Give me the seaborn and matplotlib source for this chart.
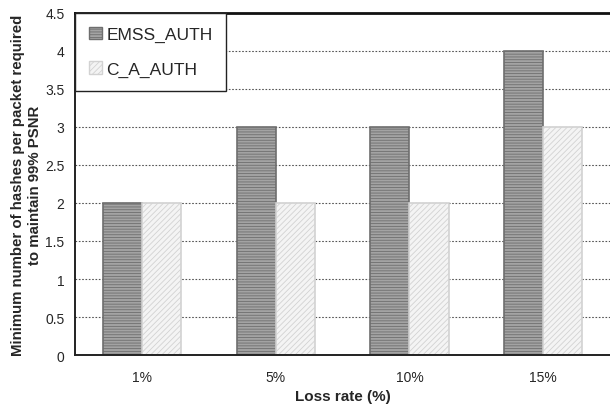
import pandas as pd
import numpy as np
import matplotlib
matplotlib.use("Agg")
import matplotlib.pyplot as plt
from matplotlib.patches import Patch
import seaborn as sns

# data
loss_rates = ["1%", "5%", "10%", "15%"]
emss_auth = [2, 3, 3, 4]
c_a_auth = [2, 2, 2, 3]
series_names = ["EMSS_AUTH", "C_A_AUTH"]

df = pd.DataFrame({
    "Loss": loss_rates * 2,
    "Hashes": emss_auth + c_a_auth,
    "Scheme": [series_names[0]] * 4 + [series_names[1]] * 4,
})

sns.set_style("white")
plt.rcParams['font.family'] = ['Liberation Sans', 'DejaVu Sans']
plt.rcParams['hatch.linewidth'] = 0.6

fig = plt.figure(figsize=(6.1, 4.06), dpi=100)
ax = fig.add_axes([0.123, 0.123, 0.877, 0.843])

fills = ["#a3a3a3", "#f4f4f4"]
styles = {
    series_names[0]: dict(fill=fills[0], edge="#6e6e6e", hatch="------"),
    series_names[1]: dict(fill=fills[1], edge="#d2d2d2", hatch="//////"),
}

sns.barplot(data=df, x="Loss", y="Hashes", hue="Scheme", ax=ax,
            palette=fills, width=0.585, gap=0,
            saturation=1, legend=False)

for cont, name in zip(ax.containers, series_names):
    for bar in cont:
        bar.set_edgecolor(styles[name]["edge"])
        bar.set_hatch(styles[name]["hatch"])
        bar.set_linewidth(1.2)

ax.set_ylim(0, 4.5)
ax.set_yticks(np.arange(0, 4.51, 0.5))
ax.set_yticklabels(["0", "0.5", "1", "1.5", "2", "2.5", "3", "3.5", "4", "4.5"])
ax.set_xlim(-0.5, 3.5)
ax.yaxis.grid(True, linestyle=(0, (1.5, 1.5)), color="#555555", linewidth=0.8)
ax.set_axisbelow(True)

ax.set_xticks(np.arange(-0.5, 3.6, 1), minor=True)
ax.tick_params(axis="x", which="major", length=0, pad=11, labelsize=10)
ax.tick_params(axis="x", which="minor", length=4, direction="out", color="#333333")
ax.tick_params(axis="y", length=4, direction="out", labelsize=10, color="#333333")

for side in ["left", "bottom"]:
    ax.spines[side].set_color("#222222")
    ax.spines[side].set_linewidth(1.4)
ax.spines["top"].set_color("#111111")
ax.spines["top"].set_linewidth(2.0)
ax.spines["right"].set_visible(False)

ax.set_xlabel("Loss rate (%)", fontsize=11, fontweight="bold", labelpad=3)
ax.set_ylabel("Minimum number of hashes per packet required\nto maintain 99% PSNR",
              fontsize=10.8, fontweight="bold", labelpad=2, linespacing=1.35)

handles = [Patch(facecolor=styles[n]["fill"], edgecolor=styles[n]["edge"],
                 hatch=styles[n]["hatch"], linewidth=1.0) for n in series_names]
leg = ax.legend(handles, series_names, loc="upper left", bbox_to_anchor=(0.0, 1.0),
                frameon=True, fancybox=False, borderpad=0.8, labelspacing=1.1,
                handlelength=0.75, handleheight=0.75, handletextpad=0.25,
                fontsize=12.5, borderaxespad=0)
leg.get_frame().set_edgecolor("#222222")
leg.get_frame().set_linewidth(1.0)
leg.get_frame().set_alpha(1)

fig.savefig("out.png", dpi=100)
